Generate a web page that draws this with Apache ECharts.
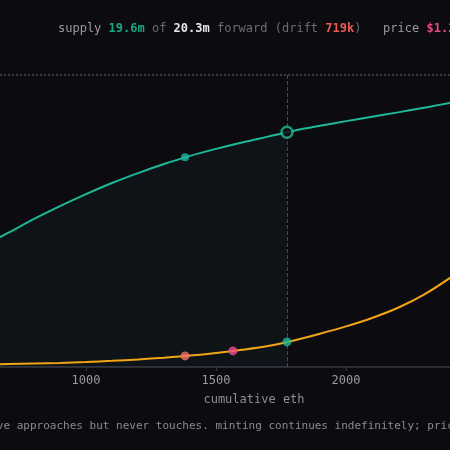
<!DOCTYPE html>
<html>
<head>
<meta charset="utf-8">
<script src="https://cdn.jsdelivr.net/npm/echarts@6/dist/echarts.min.js"></script>
<style>
  html, body { margin: 0; padding: 0; background: #0c0b10; }
  #chart { width: 450px; height: 450px; }
</style>
</head>
<body>
<div id="chart"></div>
<script>
// cumulative eth (x) and curves in normalized units (100 = asymptote)
const ethX = [600, 700, 800, 900, 1000, 1100, 1200, 1300, 1400, 1500, 1600, 1700, 1800, 1900, 2000, 2100, 2200, 2300, 2400, 2500];
const supplyVals = [41.4, 45.9, 50.7, 55.1, 59.2, 63.0, 66.4, 69.5, 72.3, 74.7, 76.9, 78.9, 80.9, 82.6, 84.2, 85.7, 87.2, 88.8, 90.4, 91.8];
const priceVals = [0.8, 1.0, 1.2, 1.4, 1.7, 2.1, 2.6, 3.2, 3.9, 4.8, 5.9, 7.2, 9.1, 11.4, 13.9, 16.8, 20.3, 24.8, 30.5, 37.0];
const nowEth = 1773;
const nowSupply = 80.4;
const supplyDots = [[1381, 71.8]];
const priceDots = [[1381, 3.8, '#f4736a'], [1565, 5.5, '#ee4f8c'], [1773, 8.6, '#1fb89a']];

const teal = '#1fb89a';
const amber = '#f2a516';
const mono = 'DejaVu Sans Mono';

let chart = echarts.init(document.getElementById('chart'));

const supplyData = ethX.map((x, i) => [x, supplyVals[i]]);
const priceData = ethX.map((x, i) => [x, priceVals[i]]);
const filled = supplyData.filter(d => d[0] <= 1700).concat([[nowEth, nowSupply]]);

let option = {
  backgroundColor: '#0c0b10',
  animation: false,
  grid: { left: -44, right: -26, top: 75, bottom: 83, containLabel: false, outerBoundsMode: 'none' },
  xAxis: {
    type: 'value',
    min: 500,
    max: 2500,
    interval: 500,
    name: 'cumulative eth',
    nameLocation: 'middle',
    nameGap: 27,
    nameTextStyle: { color: '#8e8e96', fontSize: 12, fontFamily: mono, padding: [0, 0, 0, 76] },
    axisLine: { lineStyle: { color: '#3a3a42', width: 1.5 } },
    axisTick: { show: true, length: 4, lineStyle: { color: '#3a3a42' } },
    axisLabel: { color: '#9a9aa2', fontSize: 12, fontFamily: mono, margin: 8, formatter: v => String(v) },
    splitLine: { show: false }
  },
  yAxis: [
    { type: 'value', min: 0, max: 100, show: false, splitLine: { show: false } },
    { type: 'value', min: 0, max: 100, show: false, splitLine: { show: false } }
  ],
  series: [
    {
      // shaded region up to current position
      type: 'line',
      data: filled,
      smooth: 0.3,
      symbol: 'none',
      lineStyle: { width: 0 },
      areaStyle: { color: 'rgba(31,184,154,0.075)' },
      markLine: {
        silent: true,
        symbol: 'none',
        label: { show: false },
        lineStyle: { color: '#4a4a52', type: 'dashed', width: 1 },
        data: [{ xAxis: nowEth }]
      }
    },
    {
      name: 'supply',
      type: 'line',
      data: supplyData,
      smooth: 0.3,
      symbol: 'none',
      lineStyle: { color: teal, width: 2 },
      markLine: {
        silent: true,
        symbol: 'none',
        label: { show: false },
        lineStyle: { color: '#3c3c44', type: 'dotted', width: 2 },
        data: [{ yAxis: 100 }]
      },
      z: 3
    },
    {
      name: 'price',
      type: 'line',
      yAxisIndex: 1,
      data: priceData,
      smooth: 0.3,
      symbol: 'none',
      lineStyle: { color: amber, width: 2 },
      z: 3
    },
    {
      type: 'scatter',
      data: supplyDots,
      symbolSize: 8,
      itemStyle: { color: teal },
      z: 4
    },
    {
      type: 'scatter',
      data: [[nowEth, nowSupply]],
      symbolSize: 11,
      itemStyle: { color: '#0c0b10', borderColor: teal, borderWidth: 2.5 },
      z: 5
    },
    {
      type: 'scatter',
      yAxisIndex: 1,
      data: priceDots.map(d => ({ value: [d[0], d[1]], itemStyle: { color: d[2] } })),
      symbolSize: 9,
      z: 5
    }
  ],
  graphic: [
    {
      type: 'text',
      left: 58,
      top: 23,
      style: {
        text: '{g|supply }{t|19.6m}{d| of }{w|20.3m}{d| forward (drift }{r|719k}{d|)}{g|   price }{p|$1.24}',
        rich: {
          g: { fill: '#9a9aa2', fontSize: 12, fontFamily: mono },
          d: { fill: '#6c6c74', fontSize: 12, fontFamily: mono },
          t: { fill: '#16a884', fontSize: 12, fontFamily: mono, fontWeight: 'bold' },
          w: { fill: '#e6e6ea', fontSize: 12, fontFamily: mono, fontWeight: 'bold' },
          r: { fill: '#ea5a50', fontSize: 12, fontFamily: mono, fontWeight: 'bold' },
          p: { fill: '#ec4a86', fontSize: 12, fontFamily: mono, fontWeight: 'bold' }
        }
      }
    },
    {
      type: 'text',
      left: -23,
      top: 421,
      style: {
        text: 'curve approaches but never touches. minting continues indefinitely; price rises',
        fill: '#8a8a92',
        fontSize: 11,
        fontFamily: mono
      }
    }
  ]
};

option && chart.setOption(option);
</script>
</body>
</html>
